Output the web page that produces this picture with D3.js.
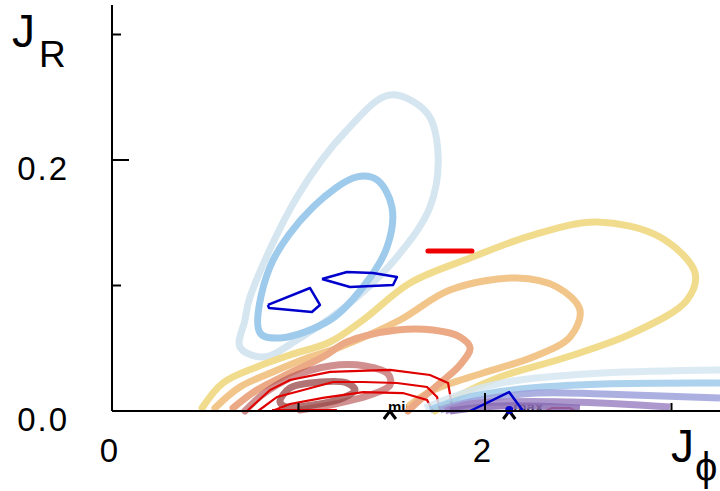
<!DOCTYPE html>
<html>
<head>
<meta charset="utf-8">
<script src="https://cdn.jsdelivr.net/npm/d3@7"></script>
<style>
  body { margin: 0; background: #fff; }
  svg { display: block; }
  text { font-family: "Liberation Sans", Arial, sans-serif; fill: #000; }
</style>
</head>
<body>
<svg width="720" height="491"></svg>
<script>
let width = 720, height = 491;

// contour lines, in (J_phi, J_R)
const lightBlueLoop = [[0.686,0.051],[0.713,0.0725],[0.740,0.0908],[0.992,0.1705],[1.260,0.2239],[1.491,0.2518],
    [1.689,0.2375],[1.748,0.2056],[1.705,0.1625],[1.528,0.1227],[1.314,0.0908],[0.992,0.0566],[0.810,0.043]];
const midBlueLoop = [[0.794,0.0622],[0.847,0.1147],[1.078,0.1625],[1.314,0.1865],[1.421,0.1841],[1.501,0.1625],
    [1.475,0.1307],[1.346,0.0988],[1.169,0.0725],[0.901,0.0582]];
const yellowLine = [[0.483,0.0024],[0.595,0.0223],[0.777,0.0351],[0.954,0.0446],[1.169,0.055],[1.346,0.0725],
    [1.598,0.102],[1.920,0.1219],[2.257,0.1402],[2.601,0.1506],[2.938,0.1386],[3.126,0.11],[3.083,0.0884],
    [2.794,0.0622],[2.440,0.043],[2.080,0.0271],[1.866,0.0127],[1.732,0]];
const orangeLine = [[0.552,0.0024],[0.686,0.0191],[0.863,0.0311],[1.046,0.0422],[1.223,0.051],[1.544,0.0725],
    [1.812,0.0964],[2.172,0.106],[2.386,0.0988],[2.509,0.0805],[2.456,0.059],[2.257,0.043],[1.989,0.0303],
    [1.721,0.0167],[1.598,0.0048]];
const salmonLine = [[0.649,0.0024],[0.777,0.0167],[0.954,0.0303],[1.131,0.043],[1.260,0.055],[1.528,0.0645],
    [1.721,0.0645],[1.866,0.059],[1.920,0.0502],[1.866,0.0367],[1.759,0.0223],[1.651,0.0088],[1.587,0]];
const brownLine = [[0.713,0],[0.804,0.0127],[0.954,0.0263],[1.169,0.0359],[1.357,0.0359],[1.480,0.0295],
    [1.491,0.0207],[1.383,0.0127],[1.196,0.0056],[1.008,0.0008]];
const darkLoop = [[0.901,0.0072],[0.954,0.0183],[1.115,0.0231],[1.260,0.0223],[1.303,0.0167],[1.239,0.0104],
    [1.078,0.0048],[0.938,0.0032]];

const lightBlueBand = [[1.678,0.0024],[1.812,0.0104],[1.973,0.0183],[2.188,0.0247],[2.633,0.0303],[3.260,0.0327]];
const midBlueBand = [[1.705,0.0008],[1.920,0.0112],[2.188,0.0175],[2.633,0.0215],[3.260,0.0223]];
const violetBand = [[1.759,0.0008],[1.920,0.0072],[2.279,0.0143],[2.633,0.0135],[3.260,0.0104]];
const purpleBand = [[1.786,0],[1.920,0.0056],[2.456,0.0072],[2.992,0.0032]];
const darkPurpleBand = [[1.812,0],[2.080,0.004],[2.509,0.0024]];

// thin red polylines
const redLines = [
    [[0.724,0],[0.847,0.0167],[0.954,0.0247],[1.169,0.0311],[1.491,0.0327],[1.705,0.0287],[1.802,0.0223],[1.828,0]],
    [[0.783,0],[0.885,0.0112],[1.046,0.0175],[1.185,0.0231],[1.346,0.0231],[1.528,0.0223],[1.689,0.0191],[1.743,0.0112],[1.759,0]],
    [[0.858,0],[0.954,0.0056],[1.131,0.0104],[1.346,0.0151],[1.560,0.0143],[1.689,0.0088],[1.721,0]],
    [[0.858,0.0008],[1.206,0.0008]],
    [[2.327,0],[2.359,0.0024],[2.456,0.0024],[2.483,0]]
];
const redDash = [[1.694,0.1275],[1.930,0.1275]];

// blue polygons
const bluePolys = [
    [[0.836,0.0845],[1.062,0.098],[1.115,0.0845],[1.072,0.0789],[0.842,0.0821],[0.836,0.0845]],
    [[1.126,0.1052],[1.260,0.1108],[1.399,0.11],[1.528,0.1068],[1.507,0.1004],[1.276,0.0988],[1.126,0.1052]],
    [[1.920,0],[2.129,0.0151],[2.204,0]]
];

// markers
const markerX = [1.49, 2.13];
const markerText = ["min", "max"];

const xTicks = [1, 2, 3];
const xTickLabels = ["0", "2"];
const yTicks = [0.1, 0.2, 0.3];
const yTickLabels = ["0.0", "0.2"];

let svg = d3.select("svg");

let x = d3.scaleLinear().domain([0, 2]).range([112, 485]);
let y = d3.scaleLinear().domain([0, 0.2]).range([411, 160]);

let smooth = d3.line().x(d => x(d[0])).y(d => y(d[1])).curve(d3.curveCatmullRom);
let smoothClosed = d3.line().x(d => x(d[0])).y(d => y(d[1])).curve(d3.curveCatmullRomClosed);
let straight = d3.line().x(d => x(d[0])).y(d => y(d[1]));

let plot = svg.append("g");

// min / max labels sit below the bands
plot.selectAll(".mlabel")
    .data(markerX)
    .enter()
    .append("text")
    .attr("x", (d, i) => x(d) + (i === 0 ? -2 : 4))
    .attr("y", y(0) + 1)
    .style("font-size", "15px")
    .style("font-weight", "bold")
    .text((d, i) => markerText[i]);

let contours = [
    { pts: lightBlueLoop, color: "#d5e6f1", w: 7, closed: true },
    { pts: midBlueLoop, color: "#9ecaeb", w: 7, closed: true },
    { pts: yellowLine, color: "#f1dc8e", w: 7 },
    { pts: orangeLine, color: "#f2c68b", w: 7 },
    { pts: salmonLine, color: "#eca985", w: 7 },
    { pts: brownLine, color: "rgba(185,85,85,0.65)", w: 7 },
    { pts: darkLoop, color: "rgba(150,70,70,0.75)", w: 7, closed: true }
];

contours.forEach(c => {
    plot.append("path")
        .attr("d", c.closed ? smoothClosed(c.pts) : smooth(c.pts))
        .attr("fill", "none")
        .attr("stroke", c.color)
        .attr("stroke-width", c.w)
        .attr("stroke-linecap", "round");
});

plot.selectAll(".red")
    .data(redLines)
    .enter()
    .append("path")
    .attr("d", straight)
    .attr("fill", "none")
    .attr("stroke", "#e00000")
    .attr("stroke-width", 2.2);

let bands = [
    { pts: lightBlueBand, color: "#d5e6f1" },
    { pts: midBlueBand, color: "#9ecaeb" },
    { pts: violetBand, color: "#9ca2dc" },
    { pts: purpleBand, color: "#9f86c4" },
    { pts: darkPurpleBand, color: "#8a6cb3" }
];
bands.forEach(b => {
    plot.append("path")
        .attr("d", smooth(b.pts))
        .attr("fill", "none")
        .attr("stroke", b.color)
        .attr("stroke-opacity", 0.85)
        .attr("stroke-width", 7);
});

plot.append("path")
    .attr("d", straight(redDash))
    .attr("fill", "none")
    .attr("stroke", "#ee0000")
    .attr("stroke-width", 5)
    .attr("stroke-linecap", "round");

plot.selectAll(".blue")
    .data(bluePolys)
    .enter()
    .append("path")
    .attr("d", straight)
    .attr("fill", "none")
    .attr("stroke", "#0000cc")
    .attr("stroke-width", 2.5)
    .attr("stroke-linejoin", "round");

// x markers, half hidden under the axis
markerX.forEach(m => {
    let cx = x(m), cy = y(0);
    plot.append("path")
        .attr("d", "M" + (cx - 6) + "," + (cy + 8) + "L" + cx + "," + cy + "L" + (cx + 6) + "," + (cy + 8))
        .attr("fill", "none")
        .attr("stroke", "#000")
        .attr("stroke-width", 3);
});
plot.append("circle")
    .attr("cx", x(markerX[1]))
    .attr("cy", y(0) - 1)
    .attr("r", 4)
    .attr("fill", "#0000cc");

// axes
let axes = svg.append("g").attr("stroke", "#000").attr("stroke-width", 2);
axes.append("line").attr("x1", x(0)).attr("x2", 720).attr("y1", y(0)).attr("y2", y(0));
axes.append("line").attr("x1", x(0)).attr("x2", x(0)).attr("y1", 5).attr("y2", y(0));

axes.selectAll(".xt")
    .data(xTicks)
    .enter()
    .append("line")
    .attr("x1", d => x(d)).attr("x2", d => x(d))
    .attr("y1", y(0))
    .attr("y2", d => y(0) - (d === 2 ? 18 : 8));

axes.selectAll(".yt")
    .data(yTicks)
    .enter()
    .append("line")
    .attr("y1", d => y(d)).attr("y2", d => y(d))
    .attr("x1", x(0))
    .attr("x2", d => x(0) + (Math.abs(d - 0.2) < 1e-9 ? 17 : 9));

// tick labels (wide, light face in the original)
svg.selectAll(".xl")
    .data(xTickLabels)
    .enter()
    .append("text")
    .attr("x", (d, i) => x(i * 2) - 3)
    .attr("y", 462)
    .attr("text-anchor", "middle")
    .style("font-size", "33px")
    .text(d => d);

svg.selectAll(".yl")
    .data(yTickLabels)
    .enter()
    .append("text")
    .attr("x", 69)
    .attr("y", (d, i) => y(i * 0.2) + 20)
    .attr("text-anchor", "end")
    .style("font-size", "33px")
    .style("letter-spacing", "2px")
    .text(d => d);

// axis titles
svg.append("text").attr("x", 12).attr("y", 47).style("font-size", "46px").text("J");
svg.append("text").attr("x", 39).attr("y", 67).style("font-size", "37px").text("R");
svg.append("text").attr("x", 671).attr("y", 462).style("font-size", "46px").text("J");
svg.append("text").attr("x", 695).attr("y", 481).style("font-size", "40px").text("ϕ");
</script>
</body>
</html>
